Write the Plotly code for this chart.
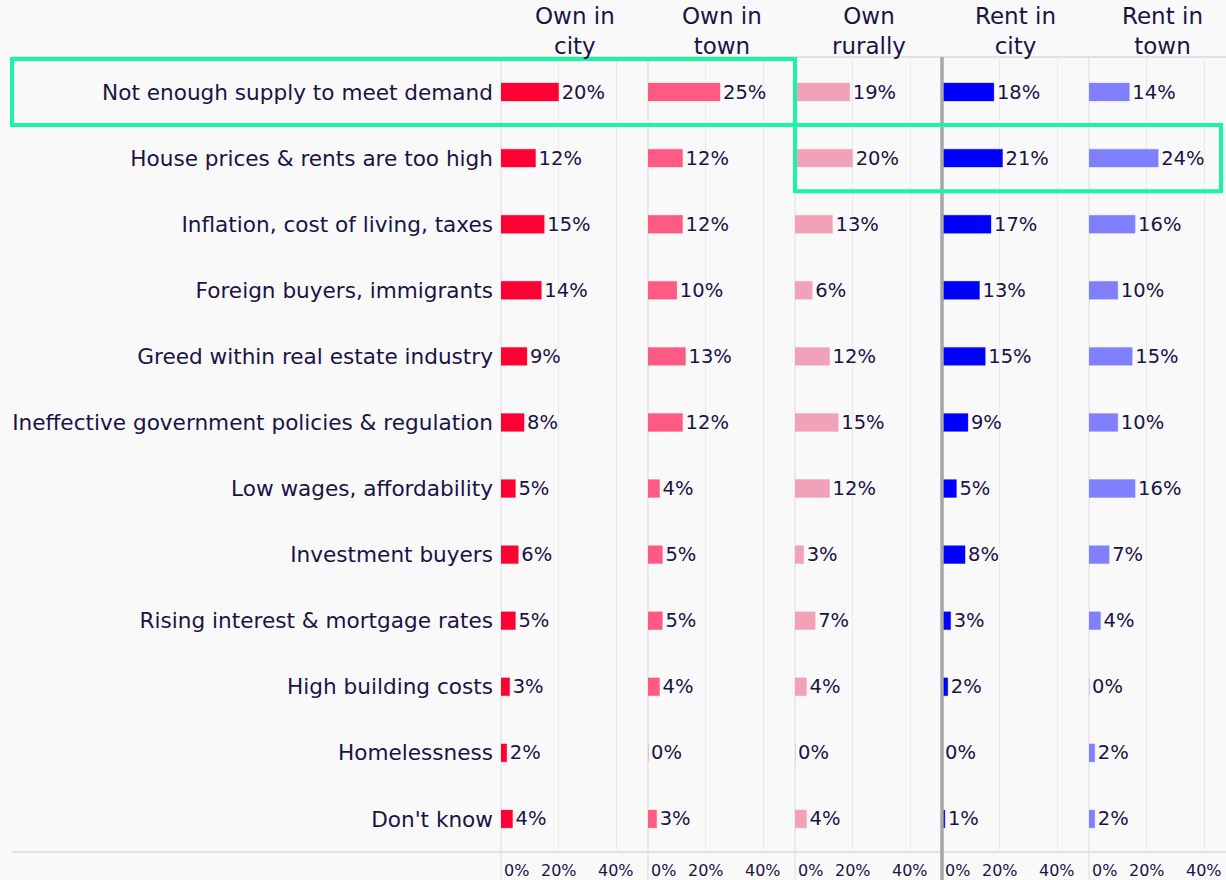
import plotly.graph_objects as go

categories = [
    "Not enough supply to meet demand",
    "House prices & rents are too high",
    "Inflation, cost of living, taxes",
    "Foreign buyers, immigrants",
    "Greed within real estate industry",
    "Ineffective government policies & regulation",
    "Low wages, affordability",
    "Investment buyers",
    "Rising interest & mortgage rates",
    "High building costs",
    "Homelessness",
    "Don't know",
]
panel_titles = ["Own in<br>city", "Own in<br>town", "Own<br>rurally", "Rent in<br>city", "Rent in<br>town"]
own_city = [20, 12, 15, 14, 9, 8, 5, 6, 5, 3, 2, 4]
own_town = [25, 12, 12, 10, 13, 12, 4, 5, 5, 4, 0, 3]
own_rural = [19, 20, 13, 6, 12, 15, 12, 3, 7, 4, 0, 4]
rent_city = [18, 21, 17, 13, 15, 9, 5, 8, 3, 2, 0, 1]
rent_town = [14, 24, 16, 10, 15, 10, 16, 7, 4, 0, 2, 2]
series = [own_city, own_town, own_rural, rent_city, rent_town]
colors = ["#ff0033", "#ff5a84", "#f2a2b8", "#0000ff", "#8080ff"]
edge_colors = ["rgba(255,0,51,0.35)", "rgba(255,90,132,0.35)", "rgba(242,162,184,0.35)",
               "rgba(0,0,255,0.35)", "rgba(128,128,255,0.35)"]
tick_vals = [0, 20, 40]

W, H = 1226, 880
L, R, T, B = 501, 0, 57, 28
pw = W - L - R
ph = H - T - B
panel_px = 147
navy = "#1a1446"
font = "DejaVu Sans"

fig = go.Figure()
shapes = []
annotations = []
for i, vals in enumerate(series):
    ax = "x" if i == 0 else f"x{i+1}"
    x0 = i * panel_px / pw
    x1 = min(1.0, (i + 1) * panel_px / pw)
    rng_max = 51 * (x1 - x0) * pw / panel_px
    fig.add_trace(go.Bar(
        x=vals, y=categories, orientation="h", xaxis=ax, yaxis="y",
        marker=dict(color=colors[i], line=dict(width=1, color=edge_colors[i])),
        width=0.27, text=[f"{v}%" for v in vals], textposition="outside",
        constraintext="none",
        textfont=dict(size=19.5, color=navy, family=font), cliponaxis=False,
        showlegend=False, hoverinfo="skip",
    ))
    key = "xaxis" if i == 0 else f"xaxis{i+1}"
    fig.layout[key] = dict(
        domain=[x0, x1], range=[0, rng_max], anchor="y",
        tickvals=tick_vals, showticklabels=False, showgrid=True,
        gridcolor="#ebebeb", gridwidth=1, zeroline=False, showline=False, fixedrange=True,
    )
    annotations.append(dict(
        text=panel_titles[i], x=(x0 + (i + 1) * panel_px / pw) / 2, xref="paper",
        y=1.0, yref="paper", yanchor="bottom", xanchor="center", showarrow=False,
        font=dict(size=23, color=navy, family=font), yshift=-4,
    ))
    for v in tick_vals:
        annotations.append(dict(
            text=f"{v}%", x=v, xref=ax, y=-18 / ph, yref="paper",
            xanchor="left" if v == 0 else "center", yanchor="middle",
            xshift=1 if v == 0 else 0, showarrow=False,
            font=dict(size=16, color=navy, family=font),
        ))
    shapes.append(dict(
        type="line", xref="paper", yref="paper", x0=x0, x1=x0, y0=-B / ph, y1=1,
        line=dict(color="#a6a6a6" if i == 3 else "#dcdcdc", width=3.5 if i == 3 else 1),
        layer="above" if i == 3 else "below",
    ))

for yy in [1, 0]:
    shapes.append(dict(type="line", xref="paper", yref="paper",
                       x0=(12 - L) / pw, x1=1, y0=yy, y1=yy,
                       line=dict(color="#d9d9d9", width=1.5), layer="below"))

green = "#19f5a3"
shapes.append(dict(type="rect", xref="paper", yref="y",
                   x0=(12 - L) / pw, x1=(795 - L) / pw, y0=-0.5, y1=0.5,
                   line=dict(color=green, width=4), fillcolor="rgba(0,0,0,0)", layer="above"))
shapes.append(dict(type="rect", xref="paper", yref="y",
                   x0=(795 - L) / pw, x1=(1221 - L) / pw, y0=0.5, y1=1.5,
                   line=dict(color=green, width=4), fillcolor="rgba(0,0,0,0)", layer="above"))

fig.update_layout(
    width=W, height=H,
    margin=dict(l=L, r=R, t=T, b=B, pad=0),
    paper_bgcolor="#f9f9f9", plot_bgcolor="#f9f9f9",
    yaxis=dict(categoryorder="array", categoryarray=categories, autorange="reversed",
               showgrid=False, zeroline=False, showline=False, ticks="",
               ticklabelstandoff=7, tickfont=dict(size=21.6, color=navy, family=font),
               fixedrange=True),
    shapes=shapes, annotations=annotations,
    bargap=0.7,
)

fig.write_html("out.html", config={"displayModeBar": False},
               post_script="document.body.style.margin='0';document.body.style.overflow='hidden';")
